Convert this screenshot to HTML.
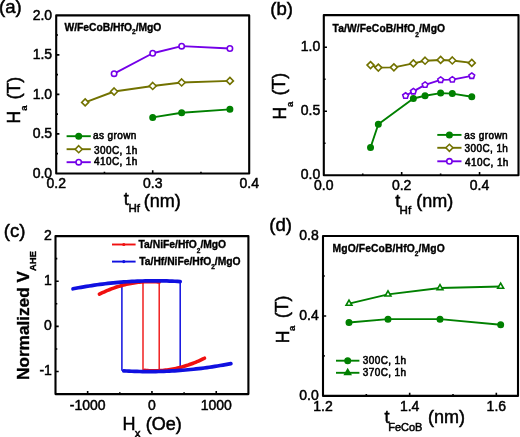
<!DOCTYPE html>
<html><head><meta charset="utf-8"><title>Figure</title>
<style>
html,body{margin:0;padding:0;background:#fff;}
svg{display:block;will-change:transform;}
text{font-family:"Liberation Sans", sans-serif;fill:#000;}
</style></head>
<body>
<svg width="520" height="437" viewBox="0 0 520 437">
<rect width="520" height="437" fill="#fff"/>
<path d="M152.7,117.43 L181.65,112.69 L229.9,109.37" fill="none" stroke="#008000" stroke-width="1.9" stroke-linejoin="round" stroke-linecap="round"/>
<circle cx="152.7" cy="117.43" r="2.7" fill="#008000" stroke="#008000" stroke-width="1.6"/>
<circle cx="181.65" cy="112.69" r="2.7" fill="#008000" stroke="#008000" stroke-width="1.6"/>
<circle cx="229.9" cy="109.37" r="2.7" fill="#008000" stroke="#008000" stroke-width="1.6"/>
<path d="M85.15,102.41 L114.1,91.5 L152.7,85.97 L181.65,82.49 L229.9,80.91" fill="none" stroke="#727200" stroke-width="1.9" stroke-linejoin="round" stroke-linecap="round"/>
<path d="M85.15,98.91L88.65,102.41L85.15,105.91L81.65,102.41Z" fill="#fff" stroke="#727200" stroke-width="1.6" stroke-linejoin="miter"/>
<path d="M114.1,88L117.6,91.5L114.1,95L110.6,91.5Z" fill="#fff" stroke="#727200" stroke-width="1.6" stroke-linejoin="miter"/>
<path d="M152.7,82.47L156.2,85.97L152.7,89.47L149.2,85.97Z" fill="#fff" stroke="#727200" stroke-width="1.6" stroke-linejoin="miter"/>
<path d="M181.65,78.99L185.15,82.49L181.65,85.99L178.15,82.49Z" fill="#fff" stroke="#727200" stroke-width="1.6" stroke-linejoin="miter"/>
<path d="M229.9,77.41L233.4,80.91L229.9,84.41L226.4,80.91Z" fill="#fff" stroke="#727200" stroke-width="1.6" stroke-linejoin="miter"/>
<path d="M114.1,73.64 L152.7,53.24 L181.65,46.13 L229.9,48.5" fill="none" stroke="#7400e8" stroke-width="1.9" stroke-linejoin="round" stroke-linecap="round"/>
<circle cx="114.1" cy="73.64" r="2.7" fill="#fff" stroke="#7400e8" stroke-width="1.6"/>
<circle cx="152.7" cy="53.24" r="2.7" fill="#fff" stroke="#7400e8" stroke-width="1.6"/>
<circle cx="181.65" cy="46.13" r="2.7" fill="#fff" stroke="#7400e8" stroke-width="1.6"/>
<circle cx="229.9" cy="48.5" r="2.7" fill="#fff" stroke="#7400e8" stroke-width="1.6"/>
<path d="M56.2,15.4H249.2V173.5H56.2Z" fill="none" stroke="#000" stroke-width="2.1" stroke-linejoin="round"/>
<path d="M56.2,133.88h3.2M56.2,94.35h3.2M56.2,54.83h3.2M56.2,153.64h1.8M56.2,114.11h1.8M56.2,74.59h1.8M56.2,35.06h1.8" stroke="#000" stroke-width="1.6" fill="none"/>
<path d="M152.7,173.5v-3.2M104.45,173.5v-1.8M200.95,173.5v-1.8" stroke="#000" stroke-width="1.6" fill="none"/>
<text x="52.1" y="177.8" font-size="14" text-anchor="end" font-weight="normal" stroke="#000" stroke-width="0.5">0.0</text>
<text x="52.1" y="138.28" font-size="14" text-anchor="end" font-weight="normal" stroke="#000" stroke-width="0.5">0.5</text>
<text x="52.1" y="98.75" font-size="14" text-anchor="end" font-weight="normal" stroke="#000" stroke-width="0.5">1.0</text>
<text x="52.1" y="59.23" font-size="14" text-anchor="end" font-weight="normal" stroke="#000" stroke-width="0.5">1.5</text>
<text x="52.1" y="19.7" font-size="14" text-anchor="end" font-weight="normal" stroke="#000" stroke-width="0.5">2.0</text>
<text x="56.2" y="188.2" font-size="14" text-anchor="middle" font-weight="normal" stroke="#000" stroke-width="0.5">0.2</text>
<text x="152.7" y="188.2" font-size="14" text-anchor="middle" font-weight="normal" stroke="#000" stroke-width="0.5">0.3</text>
<text x="249.2" y="188.2" font-size="14" text-anchor="middle" font-weight="normal" stroke="#000" stroke-width="0.5">0.4</text>
<text x="64.5" y="31.05" font-size="10.3" text-anchor="start" font-weight="bold" stroke="#000" stroke-width="0.35">W/FeCoB/HfO<tspan font-size="6.5" dy="3.4">2</tspan><tspan dy="-3.4">/MgO</tspan></text>
<path d="M66.6,136.2H90.8" stroke="#008000" stroke-width="1.9"/>
<circle cx="78.7" cy="136.2" r="2.7" fill="#008000" stroke="#008000" stroke-width="1.6"/>
<path d="M66.6,149.2H90.8" stroke="#727200" stroke-width="1.9"/>
<path d="M78.7,145.7L82.2,149.2L78.7,152.7L75.2,149.2Z" fill="#fff" stroke="#727200" stroke-width="1.6" stroke-linejoin="miter"/>
<path d="M66.6,162.2H90.8" stroke="#7400e8" stroke-width="1.9"/>
<circle cx="78.7" cy="162.2" r="2.7" fill="#fff" stroke="#7400e8" stroke-width="1.6"/>
<text x="92.95" y="139.38" font-size="10" text-anchor="start" font-weight="normal" stroke="#000" stroke-width="0.55" letter-spacing="0.4">as grown</text>
<text x="94" y="153.7" font-size="10" text-anchor="start" font-weight="normal" stroke="#000" stroke-width="0.55" letter-spacing="0.4">300C, 1h</text>
<text x="94" y="165.45" font-size="10" text-anchor="start" font-weight="normal" stroke="#000" stroke-width="0.55" letter-spacing="0.4">410C, 1h</text>
<text x="123.7" y="205.2" font-size="18" text-anchor="start" font-weight="normal" stroke="#000" stroke-width="0.5">t</text>
<text x="128.4" y="212" font-size="11.5" text-anchor="start" font-weight="normal" stroke="#000" stroke-width="0.5">Hf</text>
<text x="143.7" y="206.6" font-size="18" text-anchor="start" font-weight="normal" stroke="#000" stroke-width="0.5">(nm)</text>
<text transform="translate(20,123.4) rotate(-90)" font-size="17.5" text-anchor="start" font-weight="normal" stroke="#000" stroke-width="0.5">H</text>
<text transform="translate(26.7,110.8) rotate(-90)" font-size="9.5" text-anchor="start" font-weight="bold" stroke="#000" stroke-width="0.3">a</text>
<text transform="translate(19.8,99.3) rotate(-90)" font-size="17.5" text-anchor="start" font-weight="normal" stroke="#000" stroke-width="0.5">(T)</text>
<text x="-1" y="13.2" font-size="18.6" text-anchor="start" font-weight="normal" stroke="#000" stroke-width="0.5">(a)</text>
<path d="M370.53,147.44 L378.32,124.29 L413.36,98.45 L425.04,95.76 L440.62,93.08 L452.3,93.59 L471.77,96.79" fill="none" stroke="#008000" stroke-width="1.9" stroke-linejoin="round" stroke-linecap="round"/>
<circle cx="370.53" cy="147.44" r="2.7" fill="#008000" stroke="#008000" stroke-width="1.6"/>
<circle cx="378.32" cy="124.29" r="2.7" fill="#008000" stroke="#008000" stroke-width="1.6"/>
<circle cx="413.36" cy="98.45" r="2.7" fill="#008000" stroke="#008000" stroke-width="1.6"/>
<circle cx="425.04" cy="95.76" r="2.7" fill="#008000" stroke="#008000" stroke-width="1.6"/>
<circle cx="440.62" cy="93.08" r="2.7" fill="#008000" stroke="#008000" stroke-width="1.6"/>
<circle cx="452.3" cy="93.59" r="2.7" fill="#008000" stroke="#008000" stroke-width="1.6"/>
<circle cx="471.77" cy="96.79" r="2.7" fill="#008000" stroke="#008000" stroke-width="1.6"/>
<path d="M370.53,65.06 L378.32,67.62 L393.89,67.36 L413.36,63.4 L425.04,60.71 L440.62,59.94 L452.3,60.46 L471.77,62.89" fill="none" stroke="#727200" stroke-width="1.9" stroke-linejoin="round" stroke-linecap="round"/>
<path d="M370.53,61.56L374.03,65.06L370.53,68.56L367.03,65.06Z" fill="#fff" stroke="#727200" stroke-width="1.6" stroke-linejoin="miter"/>
<path d="M378.32,64.12L381.82,67.62L378.32,71.12L374.82,67.62Z" fill="#fff" stroke="#727200" stroke-width="1.6" stroke-linejoin="miter"/>
<path d="M393.89,63.86L397.39,67.36L393.89,70.86L390.39,67.36Z" fill="#fff" stroke="#727200" stroke-width="1.6" stroke-linejoin="miter"/>
<path d="M413.36,59.9L416.86,63.4L413.36,66.9L409.86,63.4Z" fill="#fff" stroke="#727200" stroke-width="1.6" stroke-linejoin="miter"/>
<path d="M425.04,57.21L428.54,60.71L425.04,64.21L421.54,60.71Z" fill="#fff" stroke="#727200" stroke-width="1.6" stroke-linejoin="miter"/>
<path d="M440.62,56.44L444.12,59.94L440.62,63.44L437.12,59.94Z" fill="#fff" stroke="#727200" stroke-width="1.6" stroke-linejoin="miter"/>
<path d="M452.3,56.96L455.8,60.46L452.3,63.96L448.8,60.46Z" fill="#fff" stroke="#727200" stroke-width="1.6" stroke-linejoin="miter"/>
<path d="M471.77,59.39L475.27,62.89L471.77,66.39L468.27,62.89Z" fill="#fff" stroke="#727200" stroke-width="1.6" stroke-linejoin="miter"/>
<path d="M405.57,95.76 L413.36,91.41 L425.04,84.89 L440.62,79.9 L452.3,79.64 L471.77,75.93" fill="none" stroke="#7400e8" stroke-width="1.9" stroke-linejoin="round" stroke-linecap="round"/>
<path d="M405.57,92.76L408.43,94.83L407.34,98.19L403.81,98.19L402.72,94.83Z" fill="#fff" stroke="#7400e8" stroke-width="1.6" stroke-linejoin="miter"/>
<path d="M413.36,88.41L416.22,90.49L415.13,93.84L411.6,93.84L410.51,90.49Z" fill="#fff" stroke="#7400e8" stroke-width="1.6" stroke-linejoin="miter"/>
<path d="M425.04,81.89L427.9,83.96L426.81,87.32L423.28,87.32L422.19,83.96Z" fill="#fff" stroke="#7400e8" stroke-width="1.6" stroke-linejoin="miter"/>
<path d="M440.62,76.9L443.47,78.97L442.38,82.33L438.86,82.33L437.77,78.97Z" fill="#fff" stroke="#7400e8" stroke-width="1.6" stroke-linejoin="miter"/>
<path d="M452.3,76.64L455.16,78.72L454.07,82.07L450.54,82.07L449.45,78.72Z" fill="#fff" stroke="#7400e8" stroke-width="1.6" stroke-linejoin="miter"/>
<path d="M471.77,72.93L474.63,75.01L473.54,78.36L470.01,78.36L468.92,75.01Z" fill="#fff" stroke="#7400e8" stroke-width="1.6" stroke-linejoin="miter"/>
<path d="M323.8,15.1H518.5V175.2H323.8Z" fill="none" stroke="#000" stroke-width="2.1" stroke-linejoin="round"/>
<path d="M323.8,111.24h3.2M323.8,47.28h3.2M323.8,143.22h1.8M323.8,79.26h1.8" stroke="#000" stroke-width="1.6" fill="none"/>
<path d="M401.68,175.2v-3.2M479.56,175.2v-3.2M362.74,175.2v-1.8M440.62,175.2v-1.8" stroke="#000" stroke-width="1.6" fill="none"/>
<text x="320.2" y="179.1" font-size="14" text-anchor="end" font-weight="normal" stroke="#000" stroke-width="0.5">0.0</text>
<text x="320.2" y="115.14" font-size="14" text-anchor="end" font-weight="normal" stroke="#000" stroke-width="0.5">0.5</text>
<text x="320.2" y="51.18" font-size="14" text-anchor="end" font-weight="normal" stroke="#000" stroke-width="0.5">1.0</text>
<text x="323.8" y="190.1" font-size="14" text-anchor="middle" font-weight="normal" stroke="#000" stroke-width="0.5">0.0</text>
<text x="401.68" y="190.1" font-size="14" text-anchor="middle" font-weight="normal" stroke="#000" stroke-width="0.5">0.2</text>
<text x="479.56" y="190.1" font-size="14" text-anchor="middle" font-weight="normal" stroke="#000" stroke-width="0.5">0.4</text>
<text x="332.6" y="32.2" font-size="10.3" text-anchor="start" font-weight="bold" stroke="#000" stroke-width="0.35" letter-spacing="0.08">Ta/W/FeCoB/HfO<tspan font-size="6.5" dy="5.0">2</tspan><tspan dy="-5.0">/MgO</tspan></text>
<path d="M437.3,134.9H461.5" stroke="#008000" stroke-width="1.9"/>
<circle cx="449.4" cy="134.9" r="2.7" fill="#008000" stroke="#008000" stroke-width="1.6"/>
<path d="M437.3,147.8H461.5" stroke="#727200" stroke-width="1.9"/>
<path d="M449.4,144.3L452.9,147.8L449.4,151.3L445.9,147.8Z" fill="#fff" stroke="#727200" stroke-width="1.6" stroke-linejoin="miter"/>
<path d="M437.3,161.3H461.5" stroke="#7400e8" stroke-width="1.9"/>
<circle cx="449.4" cy="161.3" r="2.7" fill="#fff" stroke="#7400e8" stroke-width="1.6"/>
<text x="464.25" y="139.15" font-size="10" text-anchor="start" font-weight="normal" stroke="#000" stroke-width="0.55" letter-spacing="0.4">as grown</text>
<text x="464.55" y="151.65" font-size="10" text-anchor="start" font-weight="normal" stroke="#000" stroke-width="0.55" letter-spacing="0.4">300C, 1h</text>
<text x="465.05" y="165.65" font-size="10" text-anchor="start" font-weight="normal" stroke="#000" stroke-width="0.55" letter-spacing="0.4">410C, 1h</text>
<text x="395.2" y="206.7" font-size="18" text-anchor="start" font-weight="normal" stroke="#000" stroke-width="0.5">t</text>
<text x="399.6" y="214.1" font-size="11.5" text-anchor="start" font-weight="normal" stroke="#000" stroke-width="0.5">Hf</text>
<text x="416.2" y="207.1" font-size="18" text-anchor="start" font-weight="normal" stroke="#000" stroke-width="0.5">(nm)</text>
<text transform="translate(285.5,119.4) rotate(-90)" font-size="17.5" text-anchor="start" font-weight="normal" stroke="#000" stroke-width="0.5">H</text>
<text transform="translate(292.5,107.1) rotate(-90)" font-size="9.5" text-anchor="start" font-weight="bold" stroke="#000" stroke-width="0.3">a</text>
<text transform="translate(285.3,95.3) rotate(-90)" font-size="17.5" text-anchor="start" font-weight="normal" stroke="#000" stroke-width="0.5">(T)</text>
<text x="270.3" y="15.05" font-size="18.6" text-anchor="start" font-weight="normal" stroke="#000" stroke-width="0.5">(b)</text>
<path d="M121.9,370.73V282.1M180.2,281.56V370.43" stroke="#1010e0" stroke-width="1.5" fill="none"/>
<path d="M143,281.84V370.22M159.2,282.01V370.66" stroke="#f01010" stroke-width="1.4" fill="none"/>
<path d="M99.4,294.15 L100.9,293.42 L102.39,292.71 L103.89,292.02 L105.38,291.36 L106.88,290.71 L108.37,290.09 L109.87,289.49 L111.36,288.92 L112.86,288.36 L114.35,287.83 L115.84,287.32 L117.34,286.83 L118.84,286.36 L120.33,285.91 L121.83,285.49 L123.32,285.09 L124.81,284.71 L126.31,284.35 L127.8,284.01 L129.3,283.7 L130.79,283.41 L132.29,283.14 L133.78,282.89 L135.28,282.66 L136.77,282.46 L138.27,282.27 L139.76,282.11 L141.26,281.97 L142.75,281.86 L144.25,281.76 L145.75,281.69 L147.24,281.64 L148.73,281.61 L150.23,281.6 L151.72,281.61 L153.22,281.65 L154.71,281.71 L156.21,281.79 L157.7,281.89 L159.2,282.01" fill="none" stroke="#f01010" stroke-width="3.6" stroke-linejoin="round" stroke-linecap="round"/>
<path d="M204.5,358.25 L203,358.98 L201.51,359.69 L200.01,360.38 L198.52,361.04 L197.02,361.69 L195.53,362.31 L194.03,362.91 L192.54,363.48 L191.04,364.04 L189.55,364.57 L188.05,365.08 L186.56,365.57 L185.06,366.04 L183.57,366.49 L182.07,366.91 L180.58,367.31 L179.08,367.69 L177.59,368.05 L176.09,368.39 L174.6,368.7 L173.1,368.99 L171.61,369.26 L170.11,369.51 L168.62,369.74 L167.12,369.94 L165.63,370.13 L164.13,370.29 L162.64,370.43 L161.14,370.54 L159.65,370.64 L158.15,370.71 L156.66,370.76 L155.16,370.79 L153.67,370.8 L152.17,370.79 L150.68,370.75 L149.19,370.69 L147.69,370.61 L146.19,370.51 L144.7,370.39" fill="none" stroke="#f01010" stroke-width="3.6" stroke-linejoin="round" stroke-linecap="round"/>
<path d="M73,288.8 L75.68,288.29 L78.36,287.79 L81.04,287.31 L83.72,286.85 L86.4,286.4 L89.08,285.97 L91.76,285.56 L94.44,285.16 L97.12,284.79 L99.8,284.43 L102.48,284.08 L105.16,283.76 L107.84,283.45 L110.52,283.15 L113.2,282.88 L115.88,282.62 L118.56,282.38 L121.24,282.16 L123.92,281.95 L126.6,281.76 L129.28,281.59 L131.96,281.43 L134.64,281.29 L137.32,281.17 L140,281.07 L142.68,280.98 L145.36,280.91 L148.04,280.86 L150.72,280.82 L153.4,280.8 L156.08,280.8 L158.76,280.82 L161.44,280.85 L164.12,280.9 L166.8,280.97 L169.48,281.05 L172.16,281.15 L174.84,281.27 L177.52,281.4 L180.2,281.56" fill="none" stroke="#1010e0" stroke-width="3.7" stroke-linejoin="round" stroke-linecap="round"/>
<path d="M230.9,363.6 L228.22,364.11 L225.54,364.61 L222.86,365.09 L220.18,365.55 L217.5,366 L214.82,366.43 L212.14,366.84 L209.46,367.24 L206.78,367.61 L204.1,367.97 L201.42,368.32 L198.74,368.64 L196.06,368.95 L193.38,369.25 L190.7,369.52 L188.02,369.78 L185.34,370.02 L182.66,370.24 L179.98,370.45 L177.3,370.64 L174.62,370.81 L171.94,370.97 L169.26,371.11 L166.58,371.23 L163.9,371.33 L161.22,371.42 L158.54,371.49 L155.86,371.54 L153.18,371.58 L150.5,371.6 L147.82,371.6 L145.14,371.58 L142.46,371.55 L139.78,371.5 L137.1,371.43 L134.42,371.35 L131.74,371.25 L129.06,371.13 L126.38,371 L123.7,370.84" fill="none" stroke="#1010e0" stroke-width="3.7" stroke-linejoin="round" stroke-linecap="round"/>
<path d="M55.5,236.1H248.4V394.1H55.5Z" fill="none" stroke="#000" stroke-width="2.1" stroke-linejoin="round"/>
<path d="M55.5,371.53h3.2M55.5,326.39h3.2M55.5,281.24h3.2M55.5,348.96h1.8M55.5,303.81h1.8M55.5,258.67h1.8" stroke="#000" stroke-width="1.6" fill="none"/>
<path d="M87.65,394.1v-3.2M151.95,394.1v-3.2M216.25,394.1v-3.2M119.8,394.1v-1.8M184.1,394.1v-1.8" stroke="#000" stroke-width="1.6" fill="none"/>
<text x="51.9" y="375.18" font-size="14" text-anchor="end" font-weight="normal" stroke="#000" stroke-width="0.5">-1</text>
<text x="51.9" y="330.04" font-size="14" text-anchor="end" font-weight="normal" stroke="#000" stroke-width="0.5">0</text>
<text x="51.9" y="284.89" font-size="14" text-anchor="end" font-weight="normal" stroke="#000" stroke-width="0.5">1</text>
<text x="51.9" y="239.75" font-size="14" text-anchor="end" font-weight="normal" stroke="#000" stroke-width="0.5">2</text>
<text x="87.65" y="410.2" font-size="14" text-anchor="middle" font-weight="normal" stroke="#000" stroke-width="0.5">-1000</text>
<text x="151.95" y="410.2" font-size="14" text-anchor="middle" font-weight="normal" stroke="#000" stroke-width="0.5">0</text>
<text x="216.25" y="410.2" font-size="14" text-anchor="middle" font-weight="normal" stroke="#000" stroke-width="0.5">1000</text>
<path d="M112,244.5H135.6" stroke="#f01010" stroke-width="1.9"/>
<circle cx="123.8" cy="244.5" r="1.6" fill="#f01010"/>
<path d="M112,261.6H135.6" stroke="#1010e0" stroke-width="1.9"/>
<circle cx="123.8" cy="261.6" r="1.6" fill="#1010e0"/>
<text x="138.6" y="248.15" font-size="10.3" text-anchor="start" font-weight="bold" stroke="#000" stroke-width="0.35">Ta/NiFe/HfO<tspan font-size="6.5" dy="4.4">2</tspan><tspan dy="-4.4">/MgO</tspan></text>
<text x="139.3" y="265.05" font-size="10.3" text-anchor="start" font-weight="bold" stroke="#000" stroke-width="0.35">Ta/Hf/NiFe/HfO<tspan font-size="6.5" dy="4.3">2</tspan><tspan dy="-4.3">/MgO</tspan></text>
<text x="122.5" y="430.1" font-size="18" text-anchor="start" font-weight="normal" stroke="#000" stroke-width="0.5">H</text>
<text x="134.7" y="436.6" font-size="11.5" text-anchor="start" font-weight="normal" stroke="#000" stroke-width="0.5">x</text>
<text x="145.7" y="429.5" font-size="18" text-anchor="start" font-weight="normal" stroke="#000" stroke-width="0.5">(Oe)</text>
<text transform="translate(28.6,380) rotate(-90)" font-size="17.2" text-anchor="start" font-weight="bold" stroke="#000" stroke-width="0.35">Normalized V</text>
<text transform="translate(36,271.1) rotate(-90)" font-size="9.5" text-anchor="start" font-weight="bold" stroke="#000" stroke-width="0.35">AHE</text>
<text x="3.7" y="237.25" font-size="18.6" text-anchor="start" font-weight="normal" stroke="#000" stroke-width="0.5">(c)</text>
<path d="M349,322.55 L388,319.15 L440,319.15 L500.67,324.74" fill="none" stroke="#008000" stroke-width="1.9" stroke-linejoin="round" stroke-linecap="round"/>
<circle cx="349" cy="322.55" r="2.7" fill="#008000" stroke="#008000" stroke-width="1.6"/>
<circle cx="388" cy="319.15" r="2.7" fill="#008000" stroke="#008000" stroke-width="1.6"/>
<circle cx="440" cy="319.15" r="2.7" fill="#008000" stroke="#008000" stroke-width="1.6"/>
<circle cx="500.67" cy="324.74" r="2.7" fill="#008000" stroke="#008000" stroke-width="1.6"/>
<path d="M349,303.56 L388,294.36 L440,287.97 L500.67,286.57" fill="none" stroke="#008000" stroke-width="1.9" stroke-linejoin="round" stroke-linecap="round"/>
<path d="M349,300.16L351.94,305.26L346.06,305.26Z" fill="#fff" stroke="#008000" stroke-width="1.6" stroke-linejoin="miter"/>
<path d="M388,290.96L390.94,296.06L385.06,296.06Z" fill="#fff" stroke="#008000" stroke-width="1.6" stroke-linejoin="miter"/>
<path d="M440,284.57L442.94,289.67L437.06,289.67Z" fill="#fff" stroke="#008000" stroke-width="1.6" stroke-linejoin="miter"/>
<path d="M500.67,283.17L503.61,288.27L497.72,288.27Z" fill="#fff" stroke="#008000" stroke-width="1.6" stroke-linejoin="miter"/>
<path d="M323,236H518V395.9H323Z" fill="none" stroke="#000" stroke-width="2.1" stroke-linejoin="round"/>
<path d="M323,315.95h3.2M323,355.92h1.8M323,275.98h1.8" stroke="#000" stroke-width="1.6" fill="none"/>
<path d="M409.67,395.9v-3.2M496.33,395.9v-3.2M366.33,395.9v-1.8M453,395.9v-1.8" stroke="#000" stroke-width="1.6" fill="none"/>
<text x="318.8" y="400.2" font-size="14" text-anchor="end" font-weight="normal" stroke="#000" stroke-width="0.5">0.0</text>
<text x="318.8" y="320.25" font-size="14" text-anchor="end" font-weight="normal" stroke="#000" stroke-width="0.5">0.4</text>
<text x="318.8" y="240.3" font-size="14" text-anchor="end" font-weight="normal" stroke="#000" stroke-width="0.5">0.8</text>
<text x="323" y="410.7" font-size="14" text-anchor="middle" font-weight="normal" stroke="#000" stroke-width="0.5">1.2</text>
<text x="409.67" y="410.7" font-size="14" text-anchor="middle" font-weight="normal" stroke="#000" stroke-width="0.5">1.4</text>
<text x="496.33" y="410.7" font-size="14" text-anchor="middle" font-weight="normal" stroke="#000" stroke-width="0.5">1.6</text>
<text x="332.6" y="251.8" font-size="10.3" text-anchor="start" font-weight="bold" stroke="#000" stroke-width="0.35" letter-spacing="0.12">MgO/FeCoB/HfO<tspan font-size="6.5" dy="4.1">2</tspan><tspan dy="-4.1">/MgO</tspan></text>
<path d="M336,360.7H359.4" stroke="#008000" stroke-width="1.9"/>
<circle cx="347.7" cy="360.7" r="2.7" fill="#008000" stroke="#008000" stroke-width="1.6"/>
<path d="M336,372.8H359.4" stroke="#008000" stroke-width="1.9"/>
<path d="M347.7,369.4L350.64,374.5L344.76,374.5Z" fill="#008000" stroke="#008000" stroke-width="1.6" stroke-linejoin="miter"/>
<text x="362.75" y="364.2" font-size="10" text-anchor="start" font-weight="normal" stroke="#000" stroke-width="0.55" letter-spacing="0.4">300C, 1h</text>
<text x="362.75" y="376.4" font-size="10" text-anchor="start" font-weight="normal" stroke="#000" stroke-width="0.55" letter-spacing="0.4">370C, 1h</text>
<text x="384.4" y="423.4" font-size="18" text-anchor="start" font-weight="normal" stroke="#000" stroke-width="0.5">t</text>
<text x="388.2" y="430.9" font-size="11" text-anchor="start" font-weight="normal" stroke="#000" stroke-width="0.5">FeCoB</text>
<text x="427.95" y="423.1" font-size="18" text-anchor="start" font-weight="normal" stroke="#000" stroke-width="0.5">(nm)</text>
<text transform="translate(288.6,343.3) rotate(-90)" font-size="17.5" text-anchor="start" font-weight="normal" stroke="#000" stroke-width="0.5">H</text>
<text transform="translate(294.7,331.1) rotate(-90)" font-size="9.5" text-anchor="start" font-weight="bold" stroke="#000" stroke-width="0.3">a</text>
<text transform="translate(288.2,318) rotate(-90)" font-size="17.5" text-anchor="start" font-weight="normal" stroke="#000" stroke-width="0.5">(T)</text>
<text x="269.33" y="231" font-size="18.6" text-anchor="start" font-weight="normal" stroke="#000" stroke-width="0.5">(d)</text>
</svg>
</body></html>
